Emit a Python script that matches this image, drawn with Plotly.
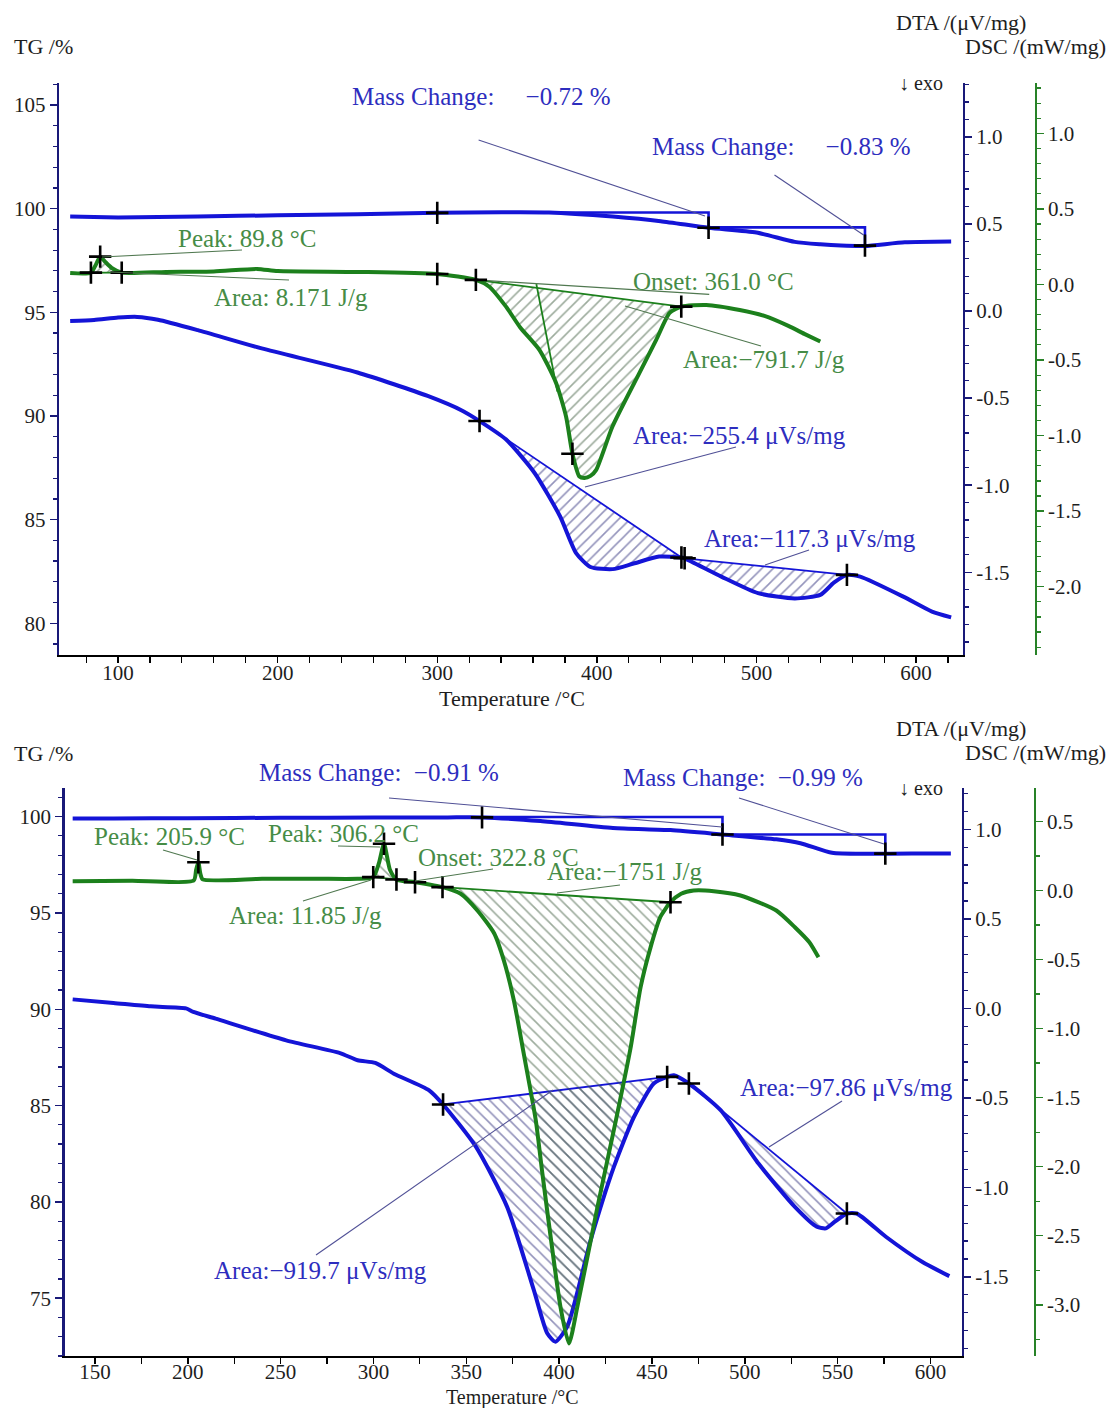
import numpy as np
import plotly.graph_objects as go

W, H = 1110, 1408

# ---------------- DATA (top panel) ----------------
tg1_T = [70, 85, 100, 125, 150, 200, 250, 300, 340, 370, 410, 440, 470, 500, 524, 540, 553, 568, 593, 622]
tg1 = [99.62, 99.60, 99.58, 99.60, 99.63, 99.68, 99.73, 99.80, 99.83, 99.82, 99.62, 99.40, 99.08, 98.85,
       98.40, 98.28, 98.22, 98.20, 98.38, 98.42]
mc1_T = [300, 470, 568]
mc1_start = 99.82
mc1 = [-0.72, -0.83]

dsc1_T = [70, 83, 86, 88.8, 92, 96, 102.3, 130, 160, 187, 200, 250, 300, 324.2, 332.6, 343.1, 352, 364,
          374.4, 380.7, 384.7, 389.1, 392.2, 396, 399.6, 409.8, 426.7, 437.2, 445.6, 452.9, 468.6, 489.5,
          505, 520, 530, 540]
dsc1 = [0.076, 0.078, 0.129, 0.184, 0.149, 0.109, 0.078, 0.083, 0.086, 0.103, 0.089, 0.083, 0.069, 0.030,
        -0.015, -0.147, -0.285, -0.433, -0.651, -0.874, -1.12, -1.271, -1.280, -1.267, -1.227, -0.940,
        -0.585, -0.367, -0.188, -0.147, -0.136, -0.169, -0.208, -0.274, -0.327, -0.378]

dta1_T = [70, 85, 100, 112, 125, 150, 190, 250, 294, 316, 326.5, 343, 361, 377, 387, 396, 410, 423, 439,
          453, 455, 478, 501, 524, 540, 548.5, 556.7, 565, 592, 610, 622]
dta1 = [-0.058, -0.052, -0.038, -0.034, -0.05, -0.11, -0.215, -0.353, -0.488, -0.574, -0.632, -0.737,
        -0.93, -1.18, -1.39, -1.47, -1.482, -1.45, -1.41, -1.415, -1.42, -1.525, -1.62, -1.65, -1.63,
        -1.56, -1.515, -1.525, -1.64, -1.726, -1.759]

# event points (temperature, value)
tg1_marks = [99.80, 99.08, 98.22]
dsc1_marks_T = [83, 88.8, 102.3, 300, 324.2, 384.7, 452.9]
dsc1_marks = [0.078, 0.184, 0.078, 0.069, 0.030, -1.12, -0.147]
dta1_marks_T = [326.5, 453, 455, 556.7]
dta1_marks = [-0.632, -1.415, -1.42, -1.515]
dsc1_areas = [(83, 102.3), (324.2, 452.9)]
dta1_areas = [(326.5, 453), (455, 556.7)]
onset1_T = [324.2, 470.4]          # extrapolated baseline
onset1 = [0.030, -0.066]
tangent1_T = [362.1, 375.3]
tangent1 = [0.002, -0.709]

# ---------------- DATA (bottom panel) ----------------
tg2_T = [138, 160, 200, 250, 300, 340, 358.5, 390, 429, 460, 488, 517, 530, 547, 566, 590, 611]
tg2 = [99.90, 99.90, 99.92, 99.94, 99.95, 99.96, 99.96, 99.77, 99.41, 99.30, 99.07, 98.82, 98.62,
       98.12, 98.07, 98.08, 98.08]
mc2_T = [358.5, 488, 575.7]
mc2_start = 99.98
mc2 = [-0.91, -0.99]
tg2_marks = [99.96, 99.07, 98.08]

dsc2_T = [138, 170, 203.2, 204.5, 205.7, 206.8, 208, 240, 270, 291.5, 299.9, 303, 305.7, 308.9, 312.4,
          322.4, 337.2, 347, 356, 365, 370.3, 375.7, 381, 387.4, 391, 400.8, 405.3, 409.9, 420.7, 430.5,
          438.5, 443.9, 449.3, 454.6, 460, 465.7, 472.5, 483.3, 497.7, 517, 527, 534.8, 539.7]
dsc2 = [0.067, 0.07, 0.072, 0.15, 0.205, 0.12, 0.08, 0.085, 0.085, 0.085, 0.097, 0.2, 0.339, 0.15, 0.08,
        0.06, 0.024, -0.024, -0.145, -0.31, -0.51, -0.80, -1.185, -1.66, -2.05, -3.02, -3.28, -3.01,
        -2.29, -1.67, -1.14, -0.70, -0.41, -0.19, -0.085, -0.024, 0.0, -0.005, -0.036, -0.145, -0.266,
        -0.375, -0.484]

dta2_T = [138, 160, 180, 199, 203, 215, 253, 282, 291.5, 301, 311, 330, 337.5, 355, 372, 386.4, 393.6,
          398, 404.4, 417, 429.5, 440.3, 451, 458.2, 461.8, 469.9, 487, 507.4, 527, 538.8, 543.7, 548.5,
          555, 560.3, 576, 595.5, 610.2]
dta2 = [0.05, 0.03, 0.011, 0.0, -0.02, -0.058, -0.179, -0.25, -0.29, -0.305, -0.365, -0.458, -0.537,
        -0.77, -1.109, -1.574, -1.815, -1.862, -1.778, -1.295, -0.886, -0.607, -0.42, -0.383, -0.374,
        -0.42, -0.569, -0.867, -1.109, -1.22, -1.229, -1.192, -1.146, -1.146, -1.276, -1.416, -1.496]

dsc2_marks_T = [205.7, 299.9, 305.7, 312.4, 322.4, 337.2, 460]
dsc2_marks = [0.205, 0.097, 0.339, 0.08, 0.06, 0.024, -0.085]
dta2_marks_T = [337.5, 458.2, 469.9, 555]
dta2_marks = [-0.537, -0.383, -0.42, -1.146]
dsc2_areas = [(299.9, 312.4), (337.2, 460)]
dta2_areas = [(337.5, 458.2), (469.9, 555)]

# tick values
x1_ticks = [100, 200, 300, 400, 500, 600]
tg1_ticks = [80, 85, 90, 95, 100, 105]
dta1_ticks = [-1.5, -1.0, -0.5, 0.0, 0.5, 1.0]
dsc1_ticks = [-2.0, -1.5, -1.0, -0.5, 0.0, 0.5, 1.0]
x2_ticks = [150, 200, 250, 300, 350, 400, 450, 500, 550, 600]
tg2_ticks = [75, 80, 85, 90, 95, 100]
dta2_ticks = [-1.5, -1.0, -0.5, 0.0, 0.5, 1.0]
dsc2_ticks = [-3.0, -2.5, -2.0, -1.5, -1.0, -0.5, 0.0, 0.5]

# ---------------- STYLE ----------------
BLUE = "rgb(20,20,215)"
GREEN = "rgb(28,128,28)"
NAVY = "rgb(25,25,120)"
DSCAX = "rgb(40,130,40)"
TXT_BLUE = "rgb(45,45,190)"
TXT_GREEN = "rgb(70,140,70)"
LEAD_BLUE = "rgb(80,80,150)"
LEAD_GREEN = "rgb(80,120,80)"
HATCH_BLUE = "rgb(40,40,120)"
HATCH_GREEN = "rgb(60,90,60)"
FONT = "Liberation Serif"
TICKC = "#1e1e1e"


def PX(x):
    return x / W


def PY(y):
    return 1 - y / H


fig = go.Figure()


def add_area(T, Y, t0, t1, xa, ya, hatch, hcolor, ecolor):
    T = np.asarray(T, float)
    Y = np.asarray(Y, float)
    m = (T >= t0 - 1e-9) & (T <= t1 + 1e-9)
    xs, ys = T[m], Y[m]
    fig.add_trace(go.Scatter(
        x=xs, y=ys, xaxis=xa, yaxis=ya, mode="lines", fill="toself",
        fillcolor="rgba(255,255,255,0)",
        fillpattern=dict(shape=hatch, fgcolor=hcolor, bgcolor="rgba(255,255,255,0)",
                         size=8, solidity=0.2),
        line=dict(width=0, shape="spline", smoothing=0.6),
        hoverinfo="skip", showlegend=False))
    fig.add_trace(go.Scatter(
        x=[xs[0], xs[-1]], y=[ys[0], ys[-1]], xaxis=xa, yaxis=ya, mode="lines",
        line=dict(color=ecolor, width=1.8), hoverinfo="skip", showlegend=False))


def add_curve(T, Y, xa, ya, color, width=4):
    fig.add_trace(go.Scatter(
        x=T, y=Y, xaxis=xa, yaxis=ya, mode="lines",
        line=dict(color=color, width=width, shape="spline", smoothing=0.6),
        hoverinfo="skip", showlegend=False))


def add_marks(T, Y, xa, ya):
    fig.add_trace(go.Scatter(
        x=T, y=Y, xaxis=xa, yaxis=ya, mode="markers",
        marker=dict(symbol="cross-thin", size=16, line=dict(color="black", width=2.6)),
        hoverinfo="skip", showlegend=False))


def add_steps(temps, start, changes, xa, ya):
    xs, ys = [], []
    level = start
    for i, dm in enumerate(changes):
        xs += [temps[i], temps[i + 1], temps[i + 1], None]
        ys += [level, level, level + dm, None]
        level = level + dm
    fig.add_trace(go.Scatter(x=xs, y=ys, xaxis=xa, yaxis=ya, mode="lines",
                             line=dict(color=BLUE, width=2.6), hoverinfo="skip", showlegend=False))


# ---- top panel traces ----
for a in dta1_areas:
    add_area(dta1_T, dta1, a[0], a[1], "x", "y2", "/", HATCH_BLUE, BLUE)
for a in dsc1_areas:
    add_area(dsc1_T, dsc1, a[0], a[1], "x", "y3", "/", HATCH_GREEN, GREEN)
fig.add_trace(go.Scatter(x=onset1_T, y=onset1, xaxis="x", yaxis="y3", mode="lines",
                         line=dict(color=LEAD_GREEN, width=1.2), hoverinfo="skip", showlegend=False))
fig.add_trace(go.Scatter(x=tangent1_T, y=tangent1, xaxis="x", yaxis="y3", mode="lines",
                         line=dict(color=GREEN, width=1.8), hoverinfo="skip", showlegend=False))
add_steps(mc1_T, mc1_start, mc1, "x", "y")
add_curve(tg1_T, tg1, "x", "y", BLUE)
add_curve(dta1_T, dta1, "x", "y2", BLUE)
add_curve(dsc1_T, dsc1, "x", "y3", GREEN)
add_marks(mc1_T, tg1_marks, "x", "y")
add_marks(dta1_marks_T, dta1_marks, "x", "y2")
add_marks(dsc1_marks_T, dsc1_marks, "x", "y3")

# ---- bottom panel traces ----
for a in dta2_areas:
    add_area(dta2_T, dta2, a[0], a[1], "x2", "y5", "\\", HATCH_BLUE, BLUE)
for a in dsc2_areas:
    add_area(dsc2_T, dsc2, a[0], a[1], "x2", "y6", "\\", HATCH_GREEN, GREEN)
add_steps(mc2_T, mc2_start, mc2, "x2", "y4")
add_curve(tg2_T, tg2, "x2", "y4", BLUE)
add_curve(dta2_T, dta2, "x2", "y5", BLUE)
add_curve(dsc2_T, dsc2, "x2", "y6", GREEN)
add_marks(mc2_T, tg2_marks, "x2", "y4")
add_marks(dta2_marks_T, dta2_marks, "x2", "y5")
add_marks(dsc2_marks_T, dsc2_marks, "x2", "y6")


def fmt(v):
    return f"{v:.1f}"


def xax(domain, rng, ticks, minor, anchor, standoff):
    return dict(domain=domain, range=rng, anchor=anchor, tickmode="array", tickvals=ticks,
                ticktext=[str(t) for t in ticks], ticks="outside", ticklen=6, tickwidth=1.5,
                tickcolor="black", showline=True, linecolor="black", linewidth=2.2,
                ticklabelstandoff=standoff,
                showgrid=False, zeroline=False, tickfont=dict(family=FONT, size=21, color=TICKC),
                minor=dict(tickmode="linear", tick0=0, dtick=minor, ticks="outside", ticklen=6,
                           tickwidth=1.2, tickcolor="black"), fixedrange=True)


def yax(rng, ticks, minor, color, labels, **kw):
    d = dict(range=rng, tickmode="array", tickvals=ticks, ticktext=labels, ticks="outside",
             ticklen=7, tickwidth=1.5, tickcolor=color, showline=True, linecolor=color,
             linewidth=2.2, showgrid=False, zeroline=False,
             tickfont=dict(family=FONT, size=21, color=TICKC),
             minor=dict(tickmode="linear", tick0=0, dtick=minor, ticks="outside", ticklen=4,
                        tickwidth=1.2, tickcolor=color), fixedrange=True)
    d.update(kw)
    return d


top_dom = [PY(655), PY(83.3)]
bot_dom = [PY(1356), PY(788.3)]

fig.update_layout(
    width=W, height=H, autosize=False,
    margin=dict(l=0, r=0, t=0, b=0),
    paper_bgcolor="white", plot_bgcolor="white", showlegend=False,
    xaxis=xax([PX(59), PX(962.8)], [63.0, 629.3], x1_ticks, 20, "y", -8),
    yaxis=yax([78.47, 106.05], tg1_ticks, 1, NAVY, [str(t) for t in tg1_ticks],
              domain=top_dom, anchor="x", side="left"),
    yaxis2=yax([-1.975, 1.307], dta1_ticks, 0.1, NAVY, [fmt(t) for t in dta1_ticks],
               overlaying="y", anchor="x", side="right"),
    yaxis3=yax([-2.452, 1.331], dsc1_ticks, 0.1, DSCAX, [fmt(t) for t in dsc1_ticks],
               overlaying="y", anchor="free", position=PX(1035.5), side="right"),
    xaxis2=xax([PX(64.5), PX(961.8)], [133.6, 616.9], x2_ticks, 25, "y4", -10),
    yaxis4=yax([72.0, 101.47], tg2_ticks, 1, NAVY, [str(t) for t in tg2_ticks],
               domain=bot_dom, anchor="x2", side="left"),
    yaxis5=yax([-1.942, 1.229], dta2_ticks, 0.1, NAVY, [fmt(t) for t in dta2_ticks],
               overlaying="y4", anchor="x2", side="right"),
    yaxis6=yax([-3.371, 0.74], dsc2_ticks, 0.25, DSCAX, [fmt(t) for t in dsc2_ticks],
               overlaying="y4", anchor="free", position=PX(1034.5), side="right"),
)

NB = "\u00a0"
# (text, x, y, anchor, color, size)
labels = [
    ("TG /%", 12, 47, "left", TICKC, 22),
    ("DTA /(μV/mg)", 1028, 22, "right", TICKC, 22),
    ("DSC /(mW/mg)", 1108, 47, "right", TICKC, 22),
    ("↓ exo", 945, 83, "right", TICKC, 20),
    ("Mass Change:" + NB * 5 + "−0.72 %", 350, 97, "left", TXT_BLUE, 25),
    ("Mass Change:" + NB * 5 + "−0.83 %", 650, 147, "left", TXT_BLUE, 25),
    ("Peak: 89.8 °C", 176, 238, "left", TXT_GREEN, 25),
    ("Area: 8.171 J/g", 212, 297, "left", TXT_GREEN, 25),
    ("Onset: 361.0 °C", 631, 281, "left", TXT_GREEN, 25),
    ("Area:−791.7 J/g", 681, 360, "left", TXT_GREEN, 25),
    ("Area:−255.4 μVs/mg", 631, 435, "left", TXT_BLUE, 25),
    ("Area:−117.3 μVs/mg", 702, 538, "left", TXT_BLUE, 25),
    ("Temperature /°C", 512, 698, "center", TICKC, 22),
    ("TG /%", 12, 753, "left", TICKC, 22),
    ("DTA /(μV/mg)", 1028, 729, "right", TICKC, 22),
    ("DSC /(mW/mg)", 1108, 752, "right", TICKC, 22),
    ("↓ exo", 945, 788, "right", TICKC, 20),
    ("Mass Change:" + NB * 2 + "−0.91 %", 257, 773, "left", TXT_BLUE, 25),
    ("Mass Change:" + NB * 2 + "−0.99 %", 621, 777, "left", TXT_BLUE, 25),
    ("Peak: 205.9 °C", 92, 836, "left", TXT_GREEN, 25),
    ("Peak: 306.2 °C", 266, 833, "left", TXT_GREEN, 25),
    ("Onset: 322.8 °C", 416, 857, "left", TXT_GREEN, 25),
    ("Area:−1751 J/g", 545, 872, "left", TXT_GREEN, 25),
    ("Area: 11.85 J/g", 227, 916, "left", TXT_GREEN, 25),
    ("Area:−919.7 μVs/mg", 212, 1270, "left", TXT_BLUE, 25),
    ("Area:−97.86 μVs/mg", 738, 1087, "left", TXT_BLUE, 25),
    ("Temperature /°C", 512, 1397, "center", TICKC, 20),
]
for t, x, y, anc, col, sz in labels:
    fig.add_annotation(x=PX(x), y=PY(y), xref="paper", yref="paper", text=t, showarrow=False,
                       xanchor=anc, yanchor="middle", font=dict(family=FONT, size=sz, color=col))

# leader lines (x0, y0, x1, y1, color)
leaders = [
    (478.6, 140, 705, 216, LEAD_BLUE),
    (774.5, 175, 863.6, 235, LEAD_BLUE),
    (102, 257, 242, 250, LEAD_GREEN),
    (110, 272, 289, 280, LEAD_GREEN),
    (625, 306, 761, 346, LEAD_GREEN),
    (585, 487, 736, 447, LEAD_BLUE),
    (765, 565, 809, 550, LEAD_BLUE),
    (389, 798, 722, 827, LEAD_BLUE),
    (739, 798, 884, 844, LEAD_BLUE),
    (163, 850, 197, 860, LEAD_GREEN),
    (338, 846, 380, 847, LEAD_GREEN),
    (493, 869, 415, 881, LEAD_GREEN),
    (620, 885, 557, 893, LEAD_GREEN),
    (303, 901, 371, 880, LEAD_GREEN),
    (316, 1255, 553, 1090, LEAD_BLUE),
    (842, 1101, 769, 1147, LEAD_BLUE),
]
for x0, y0, x1, y1, col in leaders:
    fig.add_shape(type="line", xref="paper", yref="paper", x0=PX(x0), y0=PY(y0), x1=PX(x1),
                  y1=PY(y1), line=dict(color=col, width=1.1), layer="above")

fig.write_html("out.html", config={"displayModeBar": False, "staticPlot": True},
               post_script="document.body.style.margin='0';document.body.style.overflow='hidden';")
